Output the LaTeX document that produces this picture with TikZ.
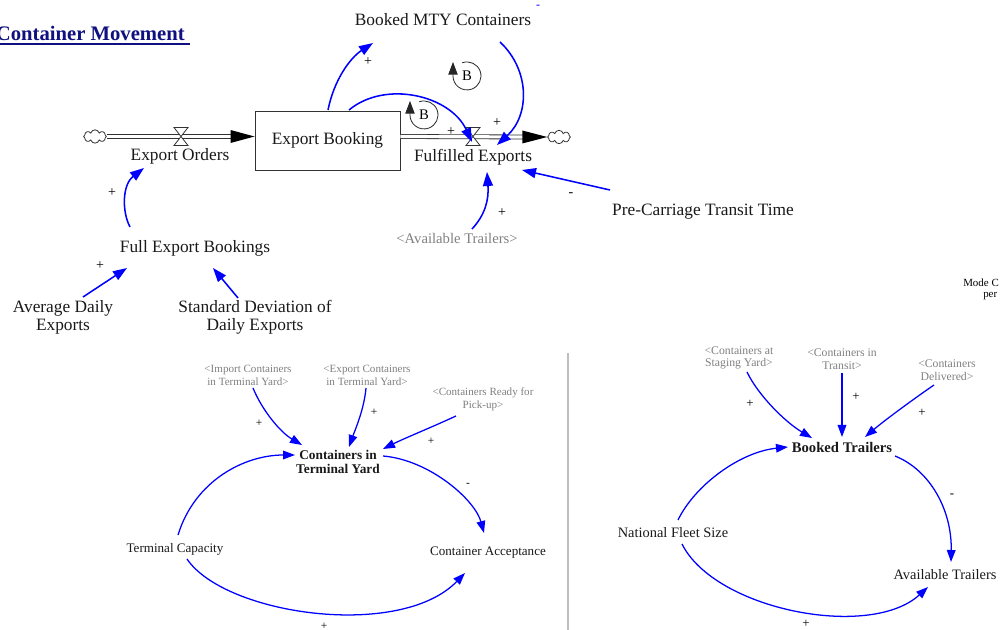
\documentclass[tikz,border=0pt]{standalone}
\usepackage{fontspec}
\setmainfont{Liberation Serif}
\usetikzlibrary{arrows.meta,calc,shapes.symbols}
\definecolor{linkblue}{RGB}{0,0,255}
\definecolor{ghostgray}{RGB}{128,128,128}
\definecolor{navytitle}{RGB}{16,16,128}
\definecolor{pipegray}{RGB}{50,50,50}
\definecolor{sepgray}{RGB}{190,190,190}

\tikzset{
  lbl/.style={font=\fontsize{13}{13.5}\selectfont, align=center, inner sep=0pt, text=black!90},
  lblS/.style={font=\fontsize{9.8}{10.3}\selectfont, align=center, inner sep=0pt, text=black!90},
  lblR/.style={font=\fontsize{10.8}{11.3}\selectfont, align=center, inner sep=0pt, text=black!90},
  ghost/.style={text=ghostgray, align=center, inner sep=0pt},
  ghostS/.style={ghost, font=\fontsize{8.3}{9.6}\selectfont},
  ghostR/.style={ghost, font=\fontsize{8.8}{9.4}\selectfont},
  sign/.style={font=\fontsize{10.5}{10.5}\selectfont, inner sep=0pt},
  signS/.style={font=\fontsize{8.6}{8.6}\selectfont, inner sep=0pt},
  signR/.style={font=\fontsize{9.7}{9.7}\selectfont, inner sep=0pt},
  link/.style={draw=linkblue, line width=1.15pt, -{Triangle[length=10.5pt,width=7.5pt]}},
  linkS/.style={draw=linkblue, line width=0.95pt, -{Triangle[length=9pt,width=6.5pt]}},
  pipe/.style={draw=pipegray, line width=0.6pt, double=white, double distance=2.4pt},
  sourcecloud/.style={cloud, draw=pipegray, fill=white, line width=0.6pt, cloud puffs=8,
    aspect=1.6, minimum width=17pt, minimum height=10pt, inner sep=0pt},
  loopring/.style={draw=black!85, line width=0.6pt, -{Triangle[length=9.5pt,width=7pt]}},
  flowvalve/.pic={\draw[draw=pipegray, fill=white, line width=0.6pt, line join=miter]
    (-7,-9) -- (7,-9) -- (-7,9) -- (7,9) -- cycle;}
}

\begin{document}
\begin{tikzpicture}[x=0.75pt,y=-0.75pt]
\useasboundingbox (0,0) rectangle (1000,630);

% ---------- title ----------
\node[font=\fontsize{15.5}{16}\selectfont\bfseries, text=navytitle, anchor=base east, inner sep=0pt]
  (title) at (185,41) {Container Movement};
\draw[navytitle, line width=0.9pt] ($(title.base west)+(0,3)$) -- ($(title.base east)+(5,3)$);

% ---------- stock and flow ----------
\node[draw=pipegray, line width=0.7pt, minimum width=108.75pt, minimum height=44.25pt, lbl]
  (eb) at (327.5,140.5) {Export Booking};
\node[sourcecloud] (cloudL) at (95,136.5) {};
\node[sourcecloud] (cloudR) at (559,137) {};
\coordinate (valveL) at (181,136.5);
\coordinate (valveR) at (473,136.5);

\draw[pipe] (cloudL.east) -- ($(eb.west)+(-22,-4)$);
\fill[black] ($(eb.west)+(-24,-10.5)$) -- ($(eb.west)+(0,-4)$) -- ($(eb.west)+(-24,2.5)$) -- cycle;
\draw[pipe] ($(eb.east)+(0,-4)$) -- ($(cloudR.west)+(-22,0)$);
\fill[black] ($(cloudR.west)+(-25,-6.5)$) -- (cloudR.west) -- ($(cloudR.west)+(-25,6.5)$) -- cycle;
\pic at (valveL) {flowvalve};
\pic at (valveR) {flowvalve};

\node[lbl] (eo) at (180,156) {Export Orders};
\node[lbl] (fe) at (473,157) {Fulfilled Exports};

% ---------- auxiliaries (top) ----------
\node[lbl] (bmty) at (443,20) {Booked MTY Containers};
\node[lbl] (feb) at (195,248) {Full Export Bookings};
\node[lbl] (ade) at (63,317) {Average Daily\\Exports};
\node[lbl] (sdde) at (255,317) {Standard Deviation of\\Daily Exports};
\node[lbl] (pct) at (703,212) {Pre-Carriage Transit Time};
\node[ghost, font=\fontsize{11}{11}\selectfont] (avt) at (457,238) {<Available Trailers>};
\node[text=linkblue, font=\fontsize{9}{9}\selectfont, inner sep=0pt] (dash) at (538,7) {-};

% ---------- loop markers ----------
\node[font=\fontsize{11}{11}\selectfont, inner sep=0pt] (loopA) at (467,76) {B};
\draw[loopring] ($(loopA)+(-4.8,-13.2)$) arc[start angle=-110, end angle=180, radius=14] -- ++(0,-14);
\node[font=\fontsize{11}{11}\selectfont, inner sep=0pt] (loopB) at (424,115) {B};
\draw[loopring] ($(loopB)+(-4.8,-13.2)$) arc[start angle=-110, end angle=180, radius=14] -- ++(0,-14);

% ---------- links (top) ----------
\draw[link] ($(eb)+(0.5,-30.5)$) .. controls (334,80) and (350,58) .. ($(bmty)+(-70,23)$);
\draw[link] ($(eb)+(21.5,-30.5)$) .. controls (385,80) and (450,95) .. ($(valveR)+(-1,5.5)$);
\draw[link] ($(bmty)+(57,22)$) .. controls (530,70) and (530,115) .. ($(fe)+(24,-12)$);
\draw[link] ($(avt)+(15,-9)$) .. controls (485,215) and (489,200) .. ($(fe)+(14,15)$);
\draw[link] ($(pct)+(-93,-22)$) -- ($(fe)+(49,13)$);
\draw[link] ($(feb)+(-65,-21)$) .. controls (122,212) and (122,185) .. ($(eo)+(-36,12)$);
\draw[link] ($(ade)+(20,-20)$) -- ($(feb)+(-68,20)$);
\draw[link] ($(sdde)+(-17,-19)$) -- ($(feb)+(18,20)$);

\node[sign] (p1) at (368,62) {+};
\node[sign] (p2) at (451,132) {+};
\node[sign] (p3) at (497,123) {+};
\node[sign] (p4) at (502,213) {+};
\node[sign] (m1) at (571,195) {-};
\node[sign] (p5) at (112,193) {+};
\node[sign] (p6) at (100,266) {+};

% ---------- terminal yard ----------
\node[lblS, font=\fontsize{10}{10.3}\selectfont\bfseries] (ctyd) at (338,462) {Containers in\\Terminal Yard};
\node[ghostS] (imp) at (248,375) {<Import Containers\\in Terminal Yard>};
\node[ghostS] (exp) at (367,375) {<Export Containers\\in Terminal Yard>};
\node[ghostS] (rdy) at (483,399) {<Containers Ready for\\Pick-up>};
\node[lblS] (tc) at (175,549) {Terminal Capacity};
\node[lblS] (ca) at (488,553) {Container Acceptance};

\draw[linkS] ($(imp)+(5,13)$) .. controls (262,410) and (280,432) .. ($(ctyd)+(-36,-17)$);
\draw[linkS] ($(exp)+(-1,13)$) .. controls (364,410) and (355,430) .. ($(ctyd)+(11,-15)$);
\draw[linkS] ($(rdy)+(-27,17)$) .. controls (430,428) and (405,438) .. ($(ctyd)+(45,-13)$);
\draw[linkS] ($(tc)+(3,-14)$) .. controls (195,480) and (245,455) .. ($(ctyd)+(-43,-7)$);
\draw[linkS] ($(ctyd)+(45,-6)$) .. controls (430,460) and (475,500) .. ($(ca)+(-4,-20)$);
\draw[linkS] ($(tc)+(12,10)$) .. controls (225,615) and (400,640) .. ($(ca)+(-23,20)$);

\node[signS] (p7) at (259,423) {+};
\node[signS] (p8) at (374,412) {+};
\node[signS] (p9) at (431,441) {+};
\node[signS] (m2) at (468,485) {-};
\node[signS] (p10) at (324,626) {+};

% ---------- divider ----------
\draw[sepgray, line width=0.8pt] (568,353) -- (568,630);

% ---------- trailers ----------
\node[lblR, font=\fontsize{11}{11.5}\selectfont\bfseries] (bt) at (842,447) {Booked Trailers};
\node[ghostR] (stg) at (739,358) {<Containers at\\Staging Yard>};
\node[ghostR] (trn) at (842,359) {<Containers in\\Transit>};
\node[ghostR] (dlv) at (947,370) {<Containers\\Delivered>};
\node[lblR] (nfs) at (673,533) {National Fleet Size};
\node[lblR] (at) at (945,575) {Available Trailers};

\draw[linkS] ($(stg)+(8,14)$) .. controls (758,395) and (785,422) .. ($(bt)+(-30,-9)$);
\draw[linkS] ($(trn)+(0,14)$) -- ($(bt)+(0,-10)$);
\draw[linkS] ($(dlv)+(-13,15)$) .. controls (915,398) and (885,420) .. ($(bt)+(23,-10)$);
\draw[linkS] ($(nfs)+(5,-13)$) .. controls (695,485) and (740,452) .. ($(bt)+(-54,0)$);
\draw[linkS] ($(bt)+(53,9)$) .. controls (930,470) and (952,510) .. ($(at)+(6,-13)$);
\draw[linkS] ($(nfs)+(9,11)$) .. controls (715,610) and (870,640) .. ($(at)+(-17,12)$);

\node[signR] (p11) at (750,404) {+};
\node[signR] (p12) at (856,397) {+};
\node[signR] (p13) at (922,413) {+};
\node[signR] (m3) at (952,496) {-};
\node[signR] (p14) at (806,624) {+};

% ---------- partly visible note at the right edge ----------
\node[anchor=west, font=\fontsize{8.2}{9}\selectfont, inner sep=0pt] (modec) at (963,283) {Mode C};
\node[anchor=west, font=\fontsize{8.2}{9}\selectfont, inner sep=0pt] (modeper) at (983,296) {per};
\end{tikzpicture}
\end{document}
